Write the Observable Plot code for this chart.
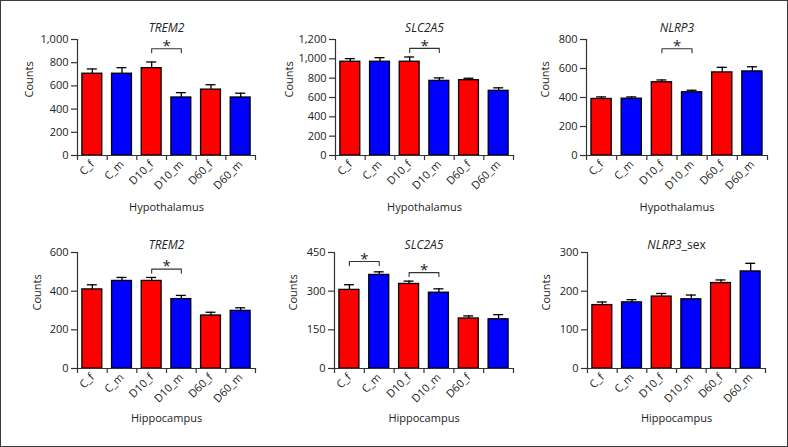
<!DOCTYPE html>
<html><head><meta charset="utf-8">
<script src="https://cdn.jsdelivr.net/npm/d3@7"></script>
<script src="https://cdn.jsdelivr.net/npm/@observablehq/plot@0.6"></script>
<style>
body{margin:0;background:#fff;font-family:"Open Sans",sans-serif;}
#fig{position:relative;width:788px;height:447px;overflow:hidden;background:#fff;}
#border{position:absolute;left:0;top:0;width:788px;height:447px;box-sizing:border-box;border:1.6px solid #3a3a3a;pointer-events:none;}
.panel{position:absolute;}
</style></head><body><div id="fig"><div id="border"></div></div>
<script>
// ---- data ----
const groups = ["C_f","C_m","D10_f","D10_m","D60_f","D60_m"];
const sexes = ["f","m"];
const sexColors = ["#ff0000","#0000ff"];
const titles = ["TREM2","SLC2A5","NLRP3","TREM2","SLC2A5","NLRP3_sex"];
const regions = ["Hypothalamus","Hypothalamus","Hypothalamus","Hippocampus","Hippocampus","Hippocampus"];

const trem2HypoMean = [705,705,753,500,568,500];
const trem2HypoErr  = [746,757,806,542,610,537];
const slc2a5HypoMean = [970,970,970,772,779,669];
const slc2a5HypoErr  = [1002,1012,1019,803,799,700];
const nlrp3HypoMean = [390,392,505,436,573,580];
const nlrp3HypoErr  = [404,404,521,450,608,612];
const trem2HippoMean = [409,453,453,359,274,298];
const trem2HippoErr  = [433,471,471,378,291,314];
const slc2a5HippoMean = [305,363,328,294,194,191];
const slc2a5HippoErr  = [325,375,339,309,204,209];
const nlrp3SexHippoMean = [164,171,186,179,221,251];
const nlrp3SexHippoErr  = [172,178,194,190,229,272];

const yTicks1 = [0,200,400,600,800,1000];
const yTicks2 = [0,200,400,600,800,1000,1200];
const yTicks3 = [0,200,400,600,800];
const yTicks4 = [0,200,400,600];
const yTicks5 = [0,150,300,450];
const yTicks6 = [0,100,200,300];

const tickLabelsFull = ["C_f","C_m","D10_f","D10_m","D60_f","D60_m"];
const tickLabelsNoLast = ["C_f","C_m","D10_f","D10_m","D60_f",""];

// significance brackets: [from, to, level]
const brackets1 = [["D10_f","D10_m",920]];
const brackets2 = [["D10_f","D10_m",1108]];
const brackets3 = [["D10_f","D10_m",736]];
const brackets4 = [["D10_f","D10_m",514]];
const brackets5 = [["C_f","C_m",415],["D10_f","D10_m",372]];
const brackets6 = [];

// ---- layout ----
const panels = [
  {means: trem2HypoMean, errs: trem2HypoErr, ticks: yTicks1, brackets: brackets1, labels: tickLabelsFull, ax: 77, pw: 178, top: 39, titleDy: -11.5, countsDx: 48, regionDy: 52},
  {means: slc2a5HypoMean, errs: slc2a5HypoErr, ticks: yTicks2, brackets: brackets2, labels: tickLabelsFull, ax: 335, pw: 178, top: 39, titleDy: -11.5, countsDx: 46, regionDy: 52},
  {means: nlrp3HypoMean, errs: nlrp3HypoErr, ticks: yTicks3, brackets: brackets3, labels: tickLabelsFull, ax: 586, pw: 181, top: 39, titleDy: -11.5, countsDx: 41, regionDy: 52},
  {means: trem2HippoMean, errs: trem2HippoErr, ticks: yTicks4, brackets: brackets4, labels: tickLabelsFull, ax: 77, pw: 178, top: 252, titleDy: -7, countsDx: 40, regionDy: 50},
  {means: slc2a5HippoMean, errs: slc2a5HippoErr, ticks: yTicks5, brackets: brackets5, labels: tickLabelsNoLast, ax: 334, pw: 179, top: 252, titleDy: -7, countsDx: 41, regionDy: 50},
  {means: nlrp3SexHippoMean, errs: nlrp3SexHippoErr, ticks: yTicks6, brackets: brackets6, labels: tickLabelsFull, ax: 587, pw: 178, top: 252, titleDy: -7, countsDx: 41, regionDy: 50}
];

const fig = document.getElementById("fig");
const ML = 62, MR = 8, MT = 30, MB = 62, PH = 116;

panels.forEach((p, k) => {
  const W = ML + p.pw + MR, H = MT + PH + MB;
  const yMax = p.ticks[p.ticks.length - 1];
  const step = p.pw / groups.length;
  const bw = step * 0.67;
  const perPx = yMax / PH;
  const rows = groups.map((g, i) => ({g, mean: p.means[i], err: p.errs[i], sex: g.endsWith("_f") ? "f" : "m"}));
  const bpts = [];
  p.brackets.forEach(([a, b, lvl], j) => {
    bpts.push({x: a, y: lvl - 4 * perPx, z: j}, {x: a, y: lvl, z: j}, {x: b, y: lvl, z: j}, {x: b, y: lvl - 4 * perPx, z: j});
  });
  const stars = p.brackets.map(([a, b, lvl]) => ({x: a, y: lvl}));

  const svg = Plot.plot({
    width: W, height: H,
    marginLeft: ML, marginRight: MR, marginTop: MT, marginBottom: MB,
    x: {domain: groups, paddingInner: 0.33, paddingOuter: 0.165, round: false},
    y: {domain: [0, yMax]},
    color: {domain: sexes, range: sexColors},
    style: {fontFamily: "Open Sans, sans-serif", color: "#222", background: "transparent", overflow: "visible"},
    marks: [
      Plot.barY(rows, {x: "g", y: "mean", fill: "sex", stroke: "#000", strokeWidth: 1.3}),
      Plot.ruleX(rows, {x: "g", y1: "mean", y2: "err", stroke: "#000", strokeWidth: 1.3}),
      Plot.tickY(rows, {x: "g", y: "err", stroke: "#000", strokeWidth: 1.3, inset: (bw - 10) / 2}),
      Plot.ruleY([0], {stroke: "#333", strokeWidth: 1.2}),
      Plot.ruleX([groups[0]], {dx: -step / 2, y1: 0, y2: yMax, stroke: "#333", strokeWidth: 1.2}),
      Plot.ruleX(groups, {dx: -step / 2, y1: 0, y2: -5 * perPx, stroke: "#333", strokeWidth: 1.2}),
      Plot.ruleX([groups[groups.length - 1]], {dx: step / 2, y1: 0, y2: -5 * perPx, stroke: "#333", strokeWidth: 1.2}),
      Plot.axisY({ticks: p.ticks, tickSize: 6, tickPadding: 3, tickFormat: d3.format(","), fontSize: 11, label: null, stroke: "#333", strokeWidth: 1.2}),
      Plot.axisX({tickSize: 0, tickPadding: 7, tickRotate: -45, fontSize: 11, label: null, tickFormat: (d) => p.labels[groups.indexOf(d)]}),
      Plot.line(bpts, {x: "x", y: "y", z: "z", stroke: "#333", strokeWidth: 1.1}),
      Plot.text(stars, {x: "x", y: "y", text: () => "*", dx: step / 2, dy: -8.5, lineAnchor: "top", fontSize: 15}),
      Plot.text([titles[k]], {frameAnchor: "top", lineAnchor: "middle", dy: p.titleDy, fontSize: 12, fontStyle: "italic"}),
      Plot.text(["Counts"], {frameAnchor: "left", lineAnchor: "middle", dx: -p.countsDx, rotate: -90, fontSize: 11}),
      Plot.text([regions[k]], {frameAnchor: "bottom", lineAnchor: "middle", dy: p.regionDy, fontSize: 11})
    ]
  });
  svg.classList.add("panel");
  svg.style.left = (p.ax - ML) + "px";
  svg.style.top = (p.top - MT) + "px";
  svg.querySelectorAll("text").forEach(t => {
    if (t.textContent === "NLRP3_sex") {
      t.innerHTML = '<tspan font-style="italic">NLRP3</tspan><tspan font-style="normal">_sex</tspan>';
    }
  });
  fig.insertBefore(svg, document.getElementById("border"));
});
</script>
</body></html>
